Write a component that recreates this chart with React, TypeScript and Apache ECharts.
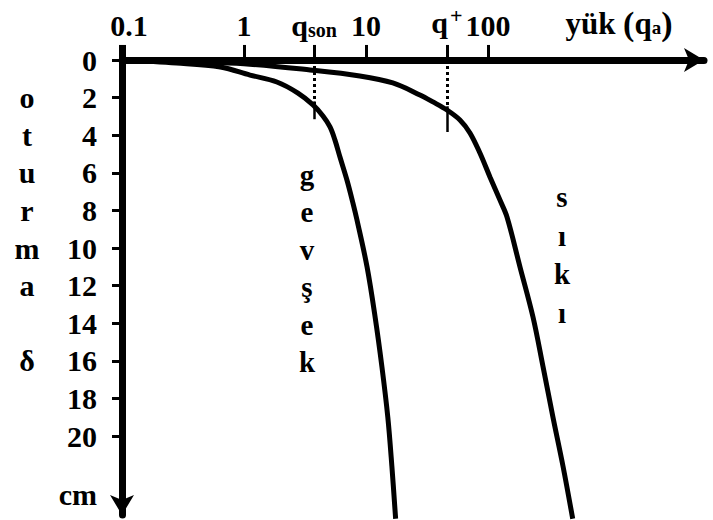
import { useEffect, useRef } from "react";
import * as echarts from "echarts";

const FONT = "'Liberation Serif', 'Times New Roman', serif";

// load (q) values on log axis and settlement (δ, cm)
const gevsekLoad = [0.1, 0.28, 0.64, 1.12, 1.86, 2.77, 3.68, 4.44, 5.07, 5.57, 6.12, 6.98, 7.82, 8.44, 10.2, 11.9, 13.5, 15.1, 16.3, 17.5];
const gevsekSettle = [0, 0.16, 0.37, 0.8, 1.17, 1.76, 2.39, 2.98, 3.56, 4.26, 5.16, 6.38, 7.61, 8.51, 11.0, 13.7, 16.3, 19.0, 21.6, 24.4];
const sikiLoad = [0.1, 0.35, 1.0, 3.48, 8.9, 16.6, 27.7, 35.4, 46.1, 58.9, 71.2, 85.9, 103.8, 125.4, 143.2, 182.9, 233.9, 282.5, 341, 412, 495];
const sikiSettle = [0, 0.1, 0.2, 0.53, 0.85, 1.22, 1.86, 2.23, 2.66, 3.19, 3.88, 4.95, 6.22, 7.45, 8.35, 11.0, 13.67, 16.3, 19.0, 21.6, 24.4];

const qSon = 3.75;
const qPlus = 46;
const qSonMeet = 2.4;
const qPlusMeet = 2.66;

const xTickValues = [1, 10, 100, qSon, qPlus];
const yTickValues = [0, 2, 4, 6, 8, 10, 12, 14, 16, 18, 20];
const yLabelValues = [0, 2, 4, 6, 8, 10, 12, 14, 16, 18, 20, 23.1];
const yLetters: Record<number, string> = { 2: "o", 4: "t", 6: "u", 8: "r", 10: "m", 12: "a", 16: "δ" };
const unitLabelValue = 23.1;
const nameLabelValue = 1000;

const zip = (xs: number[], ys: number[]) => xs.map((x, i) => [x, ys[i]]);

export default function App() {
  const ref = useRef<HTMLDivElement>(null);
  useEffect(() => {
    if (!ref.current) return;
    const chart = echarts.init(ref.current, null, { renderer: "svg" });
    const textBase = { color: "#000", fontFamily: FONT, fontWeight: "bold" as const, fontSize: 30 };

    const tickSegs = [
      { coords: [[0.1, -0.8], [0.1, 0]], lineStyle: { width: 7 } },
      ...xTickValues.map((v) => ({ coords: [[v, -0.8], [v, 0]], lineStyle: { width: 3 } })),
      { coords: [[qSon, 0], [qSon, qSonMeet]], lineStyle: { width: 3, type: [3, 3] } },
      { coords: [[qSon, qSonMeet - 0.2], [qSon, qSonMeet + 0.75]], lineStyle: { width: 2.5 } },
      { coords: [[qPlus, 0], [qPlus, qPlusMeet]], lineStyle: { width: 3, type: [3, 3] } },
      { coords: [[qPlus, qPlusMeet - 0.2], [qPlus, qPlusMeet + 1.17]], lineStyle: { width: 2.5 } },
    ];

    chart.setOption({
      animation: false,
      grid: { left: 122, right: 9, top: 60, bottom: 5 },
      xAxis: {
        type: "log",
        logBase: 10,
        min: 0.1,
        max: 5900,
        position: "top",
        axisLine: {
          lineStyle: { color: "#000", width: 7 },
          symbol: ["none", "arrow"],
          symbolSize: [18, 20],
        },
        axisTick: { show: false },
        splitLine: { show: false },
        axisLabel: {
          ...textBase,
          margin: 20,
          showMinLabel: true,
          showMaxLabel: false,
          formatter: (v: number) => {
            if (Math.abs(v - nameLabelValue) < 1) return "{y|yük }{p|(}{n|q}{sub|a}{p|)}";
            const s = String(Number(v.toPrecision(6)));
            return v < 0.5 ? `{f|${s}}` : s;
          },
          rich: {
            n: { ...textBase, fontSize: 31 },
            y: { ...textBase, fontSize: 31, padding: [0, 0, 0, 18] },
            f: { ...textBase, padding: [0, 0, 0, 14] },
            p: { ...textBase, fontSize: 34 },
            sub: { ...textBase, fontSize: 19, padding: [8, 0, 0, 0] },
          },
        },
      },
      yAxis: {
        type: "value",
        inverse: true,
        min: 0,
        max: 24.2,
        axisLine: {
          show: true,
          lineStyle: { color: "#000", width: 7 },
          symbol: ["arrow", "none"],
          symbolSize: [18, 20],
        },
        axisTick: { show: true, customValues: yTickValues, length: 10, lineStyle: { width: 3, color: "#000" } },
        splitLine: { show: false },
        axisLabel: {
          ...textBase,
          customValues: yLabelValues,
          margin: 25,
          formatter: (v: number) => {
            if (Math.abs(v - unitLabelValue) < 0.01) return "{n|cm}";
            const l = yLetters[v];
            return l ? `{l|${l}}{n|${v}}` : `{n|${v}}`;
          },
          rich: {
            l: { ...textBase, width: 30, align: "center" },
            n: { ...textBase, width: 55, align: "right" },
          },
        },
      },
      series: [
        {
          type: "line",
          data: zip(gevsekLoad, gevsekSettle),
          showSymbol: false,
          smooth: 0.35,
          clip: false,
          lineStyle: { color: "#000", width: 5 },
        },
        {
          type: "line",
          data: zip(sikiLoad, sikiSettle),
          showSymbol: false,
          smooth: 0.35,
          clip: false,
          lineStyle: { color: "#000", width: 5 },
        },
        {
          type: "lines",
          coordinateSystem: "cartesian2d",
          clip: false,
          lineStyle: { color: "#000", width: 3, opacity: 1 },
          data: tickSegs,
        },
        {
          type: "scatter",
          clip: false,
          symbolSize: 0,
          itemStyle: { opacity: 1 },
          data: [
            { value: [qSon, -0.8], name: "son" },
            { value: [qPlus, -0.8], name: "plus" },
          ],
          label: {
            show: true,
            position: "top",
            distance: 4,
            ...textBase,
            formatter: (p: any) => (p.name === "son" ? "{q|q}{s|son}" : "{q|q}{sup|+}"),
            rich: {
              q: { ...textBase },
              s: { ...textBase, fontSize: 20, padding: [8, 0, 0, 0] },
              sup: { ...textBase, fontSize: 22, padding: [0, 0, 14, 2] },
            },
          },
        },
      ],
      graphic: [
        {
          type: "text",
          x: 307,
          y: 156,
          style: {
            text: "g\ne\nv\nş\ne\nk",
            fill: "#000",
            fontFamily: FONT,
            fontWeight: "bold",
            fontSize: 29,
            lineHeight: 37.5,
            align: "center",
            textAlign: "center",
            verticalAlign: "top",
          },
        },
        {
          type: "text",
          x: 562,
          y: 178,
          style: {
            text: "s\nı\nk\nı",
            fill: "#000",
            fontFamily: FONT,
            fontWeight: "bold",
            fontSize: 29,
            lineHeight: 38.5,
            align: "center",
            textAlign: "center",
            verticalAlign: "top",
          },
        },
      ],
    });
    return () => chart.dispose();
  }, []);
  return <div ref={ref} style={{ width: 713, height: 520, position: "absolute", left: 0, top: 0 }} />;
}
